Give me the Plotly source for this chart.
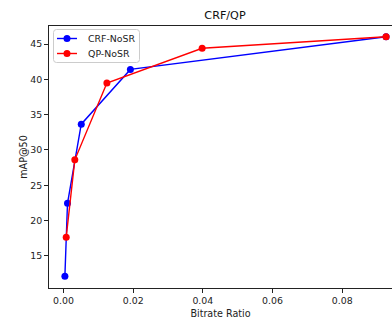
import plotly.graph_objects as go

series_names = ["CRF-NoSR", "QP-NoSR"]
series_colors = ["#0000ff", "#ff0000"]
crf_x = [0.0004, 0.00115, 0.0051, 0.0192, 0.0926]
crf_y = [12.1, 22.45, 33.65, 41.4, 46.02]
qp_x = [0.00078, 0.00325, 0.01246, 0.0398, 0.0926]
qp_y = [17.65, 28.6, 39.48, 44.4, 46.02]

x_ticks = [0.0, 0.02, 0.04, 0.06, 0.08]
x_tick_labels = ["0.00", "0.02", "0.04", "0.06", "0.08"]
y_ticks = [15, 20, 25, 30, 35, 40, 45]

FONT = "DejaVu Sans"
TICK_SIZE = 9.4
LABEL_SIZE = 9.6
TITLE_SIZE = 11.2
W, H = 392, 322
L, R, T, B = 49, 0, 26, 34
PW, PH = W - L - R, H - T - B

fig = go.Figure()
for name, color, xs, ys in zip(series_names, series_colors, [crf_x, qp_x], [crf_y, qp_y]):
    fig.add_trace(go.Scatter(x=xs, y=ys, mode="lines+markers", name=name,
                             line=dict(color=color, width=1.4),
                             marker=dict(color=color, size=7), showlegend=False))


def px_x(p):
    return (p - L) / PW


def px_y(p):
    return 1 - (p - T) / PH


# custom legend (matplotlib style)
shapes = []
annotations = []
x0, x1, y0, y1, r = 53.5, 139.5, 29.5, 62.5, 3
path = (f"M {px_x(x0 + r)} {px_y(y0)} L {px_x(x1 - r)} {px_y(y0)} "
        f"Q {px_x(x1)} {px_y(y0)} {px_x(x1)} {px_y(y0 + r)} "
        f"L {px_x(x1)} {px_y(y1 - r)} Q {px_x(x1)} {px_y(y1)} {px_x(x1 - r)} {px_y(y1)} "
        f"L {px_x(x0 + r)} {px_y(y1)} Q {px_x(x0)} {px_y(y1)} {px_x(x0)} {px_y(y1 - r)} "
        f"L {px_x(x0)} {px_y(y0 + r)} Q {px_x(x0)} {px_y(y0)} {px_x(x0 + r)} {px_y(y0)} Z")
shapes.append(dict(type="path", xref="paper", yref="paper", path=path,
                   fillcolor="rgba(255,255,255,0.8)", line=dict(color="#cccccc", width=1)))
for i, (name, color) in enumerate(zip(series_names, series_colors)):
    yy = 38.5 + 15 * i
    shapes.append(dict(type="line", xref="paper", yref="paper",
                       x0=px_x(57), x1=px_x(77), y0=px_y(yy), y1=px_y(yy),
                       line=dict(color=color, width=1.4)))
    shapes.append(dict(type="circle", xref="paper", yref="paper",
                       x0=px_x(63.5), x1=px_x(70.5), y0=px_y(yy - 3.5), y1=px_y(yy + 3.5),
                       fillcolor=color, line=dict(color=color, width=0)))
    annotations.append(dict(text=name, xref="paper", yref="paper", x=px_x(85.5), y=px_y(yy),
                            xanchor="left", yanchor="middle", showarrow=False,
                            font=dict(family=FONT, size=TICK_SIZE, color="#222222")))

fig.update_layout(
    width=W, height=H,
    margin=dict(l=L, r=R, t=T, b=B, autoexpand=False),
    paper_bgcolor="white", plot_bgcolor="white",
    font=dict(family=FONT, size=TICK_SIZE, color="#222222"),
    title=dict(text="CRF/QP", x=225 / W, xref="container", xanchor="center",
               y=1 - 15 / H, yref="container", yanchor="middle",
               font=dict(family=FONT, size=TITLE_SIZE, color="#111111")),
    showlegend=False,
    shapes=shapes,
    annotations=annotations,
    xaxis=dict(range=[-0.00416, 0.0943], tickvals=x_ticks, ticktext=x_tick_labels,
               automargin=False, tickfont=dict(size=TICK_SIZE),
               showgrid=False, zeroline=False, showline=True, linecolor="#222222",
               linewidth=1, mirror=True, ticks="outside", ticklen=4, tickcolor="#222222",
               title=dict(text="Bitrate Ratio", standoff=4,
                          font=dict(family=FONT, size=LABEL_SIZE, color="#222222"))),
    yaxis=dict(range=[10.45, 47.55], tickvals=y_ticks, automargin=False,
               tickfont=dict(size=TICK_SIZE),
               showgrid=False, zeroline=False, showline=True, linecolor="#222222",
               linewidth=1, mirror=False, ticks="outside", ticklen=4, tickcolor="#222222",
               title=dict(text="mAP@50", standoff=0,
                          font=dict(family=FONT, size=LABEL_SIZE, color="#222222"))),
)

fig.write_html("out.html", config={"displayModeBar": False},
               post_script="document.body.style.margin='0';document.body.style.padding='0';")
